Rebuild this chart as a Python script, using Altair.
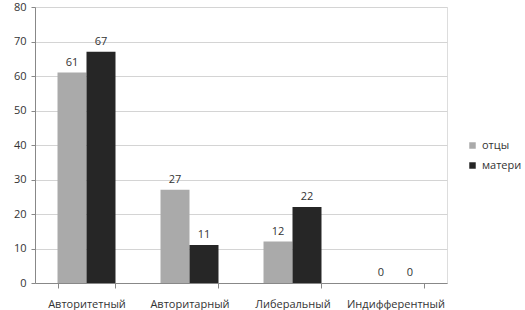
import altair as alt
import pandas as pd

categories = ["Авторитетный", "Авторитарный", "Либеральный", "Индифферентный"]
series = ["отцы", "матери"]
fathers = [61, 27, 12, 0]
mothers = [67, 11, 22, 0]

rows = []
for c, f, m in zip(categories, fathers, mothers):
    rows.append({"cat": c, "series": series[0], "value": f})
    rows.append({"cat": c, "series": series[1], "value": m})
df = pd.DataFrame(rows)

FONT = "Open Sans"

x = alt.X("cat:N", sort=categories, title=None,
          scale=alt.Scale(paddingInner=0.437, paddingOuter=0.2185),
          axis=alt.Axis(labelAngle=0, tickBand="extent", labelPadding=10,
                        tickSize=5, domainColor="#888888", tickColor="#888888",
                        labelColor="#333333", labelFontSize=11, labelFont=FONT,
                        grid=False))
y = alt.Y("value:Q", title=None,
          scale=alt.Scale(domain=[0, 80]),
          axis=alt.Axis(values=list(range(0, 81, 10)), tickSize=4,
                        domainColor="#888888", tickColor="#888888",
                        gridColor="#d4d4d4", labelColor="#333333",
                        labelFontSize=11, labelFont=FONT, labelPadding=5))
xo = alt.XOffset("series:N", sort=series)

bars = alt.Chart(df).mark_bar().encode(
    x=x, y=y, xOffset=xo,
    color=alt.Color("series:N", sort=series,
                    scale=alt.Scale(domain=series, range=["#aaaaaa", "#262626"]),
                    legend=alt.Legend(title=None, orient="none", legendX=432, legendY=133,
                                      symbolType="square", symbolSize=42,
                                      labelFont=FONT, labelFontSize=11,
                                      labelColor="#333333", rowPadding=8,
                                      symbolStrokeWidth=0)),
)

labels = alt.Chart(df).mark_text(dy=-10, font=FONT, fontSize=11, color="#333333").encode(
    x=x, y=y, xOffset=xo, text="value:Q"
)

chart = alt.layer(bars, labels).properties(
    width=412, height=276,
    autosize=alt.AutoSizeParams(type="none"),
    padding={"left": 35, "top": 7, "right": 78, "bottom": 27},
).configure_view(stroke=None).configure(background="white")

chart.save("out.html", embed_options={"renderer": "svg", "actions": False})
